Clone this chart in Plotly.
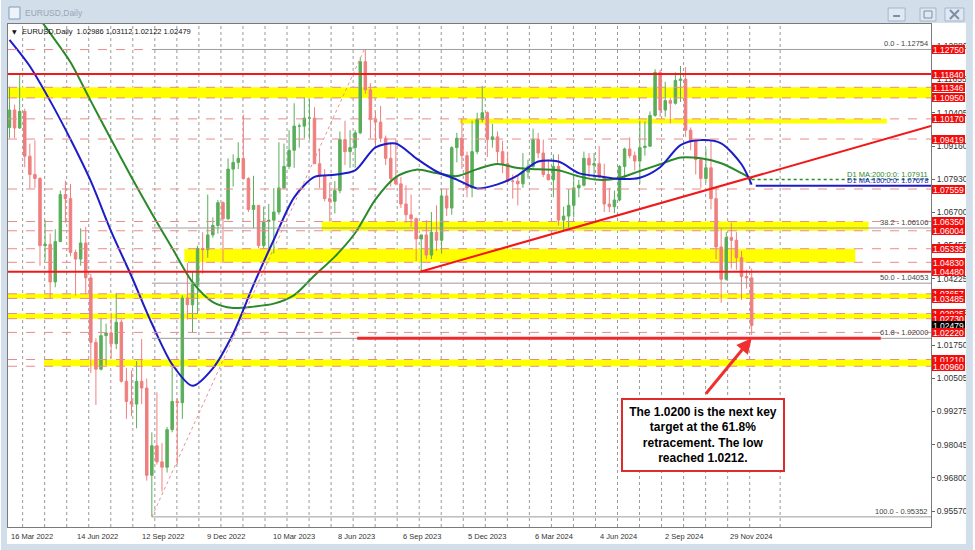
import numpy as np
import pandas as pd
import plotly.graph_objects as go

START = "2022-03-16"

# ---------------- data ----------------
# weekly candles (one per week, first week starting 16 Mar 2022)
week_high = [
    1.1137, 1.1070, 1.1185, 1.1055, 1.0925, 1.0937, 1.0800, 1.0640, 1.0590, 1.0606,
    1.0750, 1.0787, 1.0775, 1.0530, 1.0610, 1.0615, 1.0440, 1.0200, 1.0275, 1.0255,
    1.0295, 1.0368, 1.0270, 1.0090, 1.0080, 1.0115, 1.0198, 1.0050, 0.9850, 0.9999,
    0.9810, 0.9870, 1.0093, 0.9976, 1.0360, 1.0480, 1.0450, 1.0545, 1.0595, 1.0735,
    1.0650, 1.0715, 1.0710, 1.0870, 1.0885, 1.0930, 1.1033, 1.0800, 1.0805, 1.0695,
    1.0690, 1.0700, 1.0760, 1.0930, 1.0925, 1.0975, 1.1075, 1.1000, 1.1095, 1.1090,
    1.1060, 1.0905, 1.0830, 1.0780, 1.0785, 1.0970, 1.1010, 1.0975, 1.0975, 1.1245,
    1.1276, 1.1150, 1.1045, 1.1065, 1.0955, 1.0930, 1.0945, 1.0800, 1.0770, 1.0735,
    1.0650, 1.0585, 1.0640, 1.0670, 1.0695, 1.0755, 1.0755, 1.0915, 1.0965, 1.1017,
    1.0895, 1.1010, 1.1040, 1.1140, 1.1045, 1.0998, 1.0970, 1.0935, 1.0895, 1.0810,
    1.0805, 1.0890, 1.0865, 1.0981, 1.0965, 1.0940, 1.0865, 1.0885, 1.0885, 1.0690,
    1.0755, 1.0810, 1.0790, 1.0895, 1.0890, 1.0890, 1.0916, 1.0850, 1.0760, 1.0750,
    1.0845, 1.0910, 1.0948, 1.0895, 1.1010, 1.1008, 1.1045, 1.1202, 1.1200, 1.1155,
    1.1095, 1.1190, 1.1214, 1.1210, 1.0985, 1.0940, 1.0870, 1.0905, 1.0935, 1.0760,
    1.0610, 1.0595, 1.0630, 1.0595, 1.0525, 1.0455, 1.0460]
week_low = [
    1.0945, 1.0945, 1.0980, 1.0837, 1.0757, 1.0760, 1.0470, 1.0490, 1.0350, 1.0390,
    1.0560, 1.0630, 1.0505, 1.0359, 1.0470, 1.0365, 1.0070, 0.9952, 1.0080, 1.0100,
    1.0125, 1.0160, 1.0035, 0.9900, 0.9910, 0.9865, 0.9955, 0.9670, 0.9536, 0.9730,
    0.9630, 0.9700, 0.9850, 0.9730, 0.9900, 1.0270, 1.0220, 1.0290, 1.0440, 1.0500,
    1.0575, 1.0590, 1.0480, 1.0640, 1.0765, 1.0830, 1.0790, 1.0670, 1.0610, 1.0535,
    1.0535, 1.0525, 1.0516, 1.0660, 1.0755, 1.0830, 1.0835, 1.0910, 1.0945, 1.0940,
    1.0850, 1.0760, 1.0710, 1.0635, 1.0665, 1.0740, 1.0845, 1.0835, 1.0835, 1.0960,
    1.1110, 1.0945, 1.0910, 1.0930, 1.0845, 1.0765, 1.0770, 1.0685, 1.0630, 1.0615,
    1.0488, 1.0448, 1.0495, 1.0495, 1.0525, 1.0515, 1.0655, 1.0660, 1.0855, 1.0830,
    1.0725, 1.0725, 1.0885, 1.1005, 1.0875, 1.0910, 1.0845, 1.0815, 1.0780, 1.0720,
    1.0695, 1.0760, 1.0795, 1.0835, 1.0870, 1.0800, 1.0790, 1.0725, 1.0620, 1.0601,
    1.0610, 1.0650, 1.0725, 1.0765, 1.0800, 1.0790, 1.0800, 1.0670, 1.0670, 1.0666,
    1.0710, 1.0790, 1.0870, 1.0825, 1.0775, 1.0880, 1.0915, 1.1025, 1.1025, 1.1025,
    1.1000, 1.1070, 1.1080, 1.0950, 1.0900, 1.0810, 1.0760, 1.0780, 1.0680, 1.0495,
    1.0332, 1.0415, 1.0460, 1.0455, 1.0343, 1.0385, 1.0212]
week_close = [
    1.1050, 1.0983, 1.1045, 1.0878, 1.0810, 1.0795, 1.0545, 1.0550, 1.0410, 1.0560,
    1.0735, 1.0720, 1.0520, 1.0495, 1.0555, 1.0425, 1.0185, 1.0085, 1.0210, 1.0220,
    1.0180, 1.0260, 1.0040, 0.9965, 0.9955, 1.0040, 1.0015, 0.9690, 0.9800, 0.9740,
    0.9720, 0.9860, 0.9965, 0.9960, 1.0350, 1.0325, 1.0400, 1.0535, 1.0530, 1.0585,
    1.0620, 1.0705, 1.0645, 1.0830, 1.0855, 1.0870, 1.0795, 1.0680, 1.0695, 1.0545,
    1.0635, 1.0640, 1.0670, 1.0760, 1.0840, 1.0900, 1.0990, 1.0990, 1.1020, 1.1020,
    1.0850, 1.0805, 1.0720, 1.0710, 1.0750, 1.0940, 1.0895, 1.0910, 1.0965, 1.1230,
    1.1125, 1.1015, 1.1005, 1.0945, 1.0870, 1.0795, 1.0775, 1.0700, 1.0660, 1.0645,
    1.0570, 1.0585, 1.0510, 1.0595, 1.0565, 1.0730, 1.0685, 1.0910, 1.0945, 1.0880,
    1.0760, 1.0895, 1.1015, 1.1040, 1.0940, 1.0950, 1.0895, 1.0850, 1.0785, 1.0785,
    1.0775, 1.0820, 1.0840, 1.0940, 1.0890, 1.0810, 1.0790, 1.0840, 1.0640, 1.0655,
    1.0695, 1.0760, 1.0770, 1.0870, 1.0845, 1.0850, 1.0800, 1.0700, 1.0690, 1.0715,
    1.0840, 1.0905, 1.0880, 1.0860, 1.0910, 1.0915, 1.1030, 1.1190, 1.1050, 1.1085,
    1.1075, 1.1160, 1.1165, 1.0975, 1.0935, 1.0865, 1.0795, 1.0835, 1.0720, 1.0540,
    1.0420, 1.0575, 1.0565, 1.0500, 1.0430, 1.0425, 1.0248]
first_open = 1.0985

# moving averages sampled every 4 weeks (plus the last week)
ma100 = [1.1311, 1.1213, 1.1084, 1.0941, 1.0785, 1.0598, 1.0431, 1.0255, 1.0103, 1.0023,
         1.0088, 1.0218, 1.0399, 1.0567, 1.0725, 1.0801, 1.0809, 1.0825, 1.0911, 1.0925,
         1.0870, 1.0821, 1.0791, 1.0758, 1.0773, 1.0807, 1.0858, 1.0858, 1.0815, 1.0803,
         1.0793, 1.0798, 1.0837, 1.0919, 1.0938, 1.0926, 1.0848, 1.0772]
ma200 = [1.1545, 1.1440, 1.1336, 1.1228, 1.1083, 1.0940, 1.0800, 1.0665, 1.0536, 1.0409,
         1.0335, 1.0313, 1.0318, 1.0329, 1.0361, 1.0434, 1.0504, 1.0592, 1.0717, 1.0800,
         1.0828, 1.0815, 1.0804, 1.0830, 1.0849, 1.0834, 1.0829, 1.0826, 1.0803, 1.0790,
         1.0797, 1.0823, 1.0848, 1.0873, 1.0870, 1.0852, 1.0815, 1.0793]
ma100_last = 1.07678
ma200_last = 1.07911

tick_dates = ["2022-03-16", "2022-06-14", "2022-09-12", "2022-12-09", "2023-03-10", "2023-06-08",
              "2023-09-06", "2023-12-05", "2024-03-06", "2024-06-04", "2024-09-02", "2024-11-29"]
tick_text = ["16 Mar 2022", "14 Jun 2022", "12 Sep 2022", "9 Dec 2022", "10 Mar 2023", "8 Jun 2023",
             "6 Sep 2023", "5 Dec 2023", "6 Mar 2024", "4 Jun 2024", "2 Sep 2024", "29 Nov 2024"]

axis_ticks = [1.12880, 1.11655, 1.10405, 1.09160, 1.07930, 1.06700, 1.05455, 1.04225,
              1.02995, 1.01750, 1.00505, 0.99275, 0.98045, 0.96800, 0.95570]
red_labels = [1.12750, 1.11840, 1.11346, 1.10950, 1.10170, 1.09419, 1.07559, 1.06350, 1.06004,
              1.05335, 1.04830, 1.04480, 1.03657, 1.03485, 1.02925, 1.02730, 1.02220, 1.01210, 1.00960]
header_ohlc = [1.02986, 1.03112, 1.02122, 1.02479]
current_price = 1.02479

solid_levels = [1.11840, 1.04480]
dashed_levels = [1.11346, 1.10950, 1.10170, 1.09419, 1.07559, 1.06350, 1.06004, 1.05335,
                 1.04830, 1.03657, 1.03485, 1.02925, 1.02730, 1.02220, 1.01210, 1.00960]
top_dashed = 1.12750
band_lo = [1.10950, 1.10000, 1.06004, 1.04830, 1.03485, 1.02730, 1.00960]
band_hi = [1.11346, 1.10170, 1.06350, 1.05335, 1.03657, 1.02925, 1.01210]
band_from = [None, "2023-11-27", "2023-05-19", "2022-11-11", None, None, "2022-05-03"]
band_to = [None, "2025-07-07", "2025-06-11", "2025-05-23", None, None, None]

fib_low = ("2022-09-28", 0.95352)
fib_high = ("2023-07-18", 1.12754)
fib_ratios = [0.0, 38.2, 50.0, 61.8, 100.0]
target_line = ("2023-07-07", "2025-06-27")
trend_a = ("2023-10-03", 1.04480)
trend_b = ("2025-01-01", 1.08000)

# ---------------- helpers ----------------
W, H = 975, 550
L, R, T, B = 7, 933, 24, 527
X0, X1 = -1.47, 906.4
Y0, Y1 = 0.94975, 1.13702


def bx(d):
    return int(np.busday_count(START, pd.Timestamp(d).strftime("%Y-%m-%d")))


def px(x):
    return (x - L) / (R - L)


def py(y):
    return (B - y) / (B - T)


week_dates = pd.date_range(START, periods=len(week_close), freq="7D")
week_x = [bx(d) for d in week_dates]
week_open = [first_open] + week_close[:-1]
ma_x = week_x[::4] + [week_x[-1]]

FONT = "Liberation Sans"
GREEN_C = "#5aae5a"
RED_C = "#ef7f7f"

fig = go.Figure()
fig.add_trace(go.Candlestick(
    x=week_x, open=week_open, high=week_high, low=week_low, close=week_close,
    increasing=dict(line=dict(color=GREEN_C, width=1), fillcolor=GREEN_C),
    decreasing=dict(line=dict(color=RED_C, width=1), fillcolor=RED_C),
    whiskerwidth=0, hoverinfo="skip"))
fig.add_trace(go.Scatter(x=ma_x, y=ma200, mode="lines",
                         line=dict(color="#2a8a2a", width=2, shape="spline", smoothing=0.8),
                         hoverinfo="skip"))
fig.add_trace(go.Scatter(x=ma_x, y=ma100, mode="lines",
                         line=dict(color="#1c1cc8", width=2, shape="spline", smoothing=0.8),
                         hoverinfo="skip"))

shapes = []
# yellow zones
for lo, hi, f, t in zip(band_lo, band_hi, band_from, band_to):
    shapes.append(dict(type="rect", xref="x", yref="y", layer="below",
                       x0=bx(f) if f else X0, x1=bx(t) if t else X1, y0=lo, y1=hi,
                       fillcolor="#ffff00", line=dict(width=0)))
# vertical dotted grid (MT4 style)
g = 12.94
while g <= 730:
    shapes.append(dict(type="line", xref="x", yref="paper", layer="below", x0=g, x1=g, y0=0, y1=1,
                       line=dict(color="#9a9a9a", width=1, dash="dot")))
    g += 21.67
shapes.append(dict(type="line", xref="x", yref="paper", layer="below", x0=758, x1=758, y0=0, y1=1,
                   line=dict(color="#9a9a9a", width=1, dash="dot")))

# dashed horizontal levels
for lv in dashed_levels:
    shapes.append(dict(type="line", xref="x", yref="y", x0=X0, x1=X1, y0=lv, y1=lv,
                       line=dict(color="#ec8a8a", width=1, dash="dash")))
shapes.append(dict(type="line", xref="x", yref="y", x0=X0, x1=bx(fib_low[0]), y0=top_dashed,
                   y1=top_dashed, line=dict(color="#ec8a8a", width=1, dash="dash")))
# fibonacci
fl_x, fh_x = bx(fib_low[0]), bx(fib_high[0])
rng = fib_high[1] - fib_low[1]
fib_prices = [fib_high[1] - r / 100.0 * rng for r in fib_ratios]
for p in fib_prices:
    shapes.append(dict(type="line", xref="x", yref="y", x0=fl_x, x1=X1, y0=p, y1=p,
                       line=dict(color="#9c9c9c", width=1)))
shapes.append(dict(type="line", xref="x", yref="y", x0=fl_x, x1=fh_x, y0=fib_low[1], y1=fib_high[1],
                   line=dict(color="#e89090", width=1, dash="dot")))
# solid red levels
for lv in solid_levels:
    shapes.append(dict(type="line", xref="x", yref="y", x0=X0, x1=X1, y0=lv, y1=lv,
                       line=dict(color="#f01818", width=2)))
shapes.append(dict(type="line", xref="x", yref="y", x0=bx(target_line[0]), x1=bx(target_line[1]),
                   y0=fib_prices[3], y1=fib_prices[3], line=dict(color="#f02a2a", width=3)))
# trend ray
ta_x, tb_x = bx(trend_a[0]), bx(trend_b[0])
slope = (trend_b[1] - trend_a[1]) / (tb_x - ta_x)
shapes.append(dict(type="line", xref="x", yref="y", x0=ta_x, x1=X1, y0=trend_a[1],
                   y1=trend_a[1] + slope * (X1 - ta_x), line=dict(color="#f01818", width=2)))
# MA value lines
shapes.append(dict(type="line", xref="x", yref="y", x0=ma_x[-1], x1=X1, y0=ma200_last, y1=ma200_last,
                   line=dict(color="#2a8a2a", width=1.5, dash="dot")))
shapes.append(dict(type="line", xref="x", yref="y", x0=ma_x[-1] + 4, x1=X1, y0=ma100_last, y1=ma100_last,
                   line=dict(color="#1c1cc8", width=2)))

# window frame (outside the plot area)
FRAME = "#d3deeb"
for (a, b, c, d) in [(0, W, 0, T - 1), (0, L - 1, 0, H), (968, W, 0, H), (0, W, 544, H)]:
    shapes.append(dict(type="rect", xref="paper", yref="paper", x0=px(a), x1=px(b), y0=py(c), y1=py(d),
                       fillcolor=FRAME, line=dict(width=0), layer="above"))
shapes.append(dict(type="rect", xref="paper", yref="paper", x0=px(8), x1=px(19), y0=py(7), y1=py(19),
                   fillcolor="#eef3f9", line=dict(color="#7f9cc0", width=1), layer="above"))
for (a, b) in [(890, 907), (922, 938), (947, 966)]:
    shapes.append(dict(type="rect", xref="paper", yref="paper", x0=px(a), x1=px(b), y0=py(8), y1=py(21),
                       fillcolor="#e0e8f2", line=dict(color="#a6b6cb", width=1), layer="above"))
shapes.append(dict(type="line", xref="paper", yref="paper", x0=px(895), x1=px(902), y0=py(16), y1=py(16),
                   line=dict(color="#7d8ea6", width=2), layer="above"))
shapes.append(dict(type="rect", xref="paper", yref="paper", x0=px(926), x1=px(934), y0=py(11), y1=py(18),
                   line=dict(color="#7d8ea6", width=1), layer="above"))
shapes.append(dict(type="line", xref="paper", yref="paper", x0=px(952), x1=px(961), y0=py(10), y1=py(19),
                   line=dict(color="#7d8ea6", width=2), layer="above"))
shapes.append(dict(type="line", xref="paper", yref="paper", x0=px(952), x1=px(961), y0=py(19), y1=py(10),
                   line=dict(color="#7d8ea6", width=2), layer="above"))

ann = []
# window title & chart header
ann.append(dict(text="EURUSD,Daily", xref="paper", yref="paper", x=px(22), y=py(13), xanchor="left",
                yanchor="middle", showarrow=False, font=dict(family=FONT, size=8.5, color="#9aa6b6")))
ann.append(dict(text="▼", xref="paper", yref="paper", x=px(9), y=py(32), xanchor="left", yanchor="middle",
                showarrow=False, font=dict(family="DejaVu Sans", size=6, color="#111")))
ann.append(dict(text="EURUSD,Daily  " + " ".join(f"{v:.5f}" for v in header_ohlc), xref="paper", yref="paper",
                x=px(19), y=py(32), xanchor="left", yanchor="middle", showarrow=False,
                font=dict(family=FONT, size=7.5, color="#111")))
# x labels
for d, t in zip(tick_dates, tick_text):
    ann.append(dict(text=t, xref="x", yref="paper", x=bx(d), y=py(536), xanchor="left", yanchor="middle",
                    showarrow=False, font=dict(family=FONT, size=7.5, color="#333")))
# fib labels
for r, p in zip(fib_ratios, fib_prices):
    ann.append(dict(text=f"{r:.1f} - {p:.5f}", xref="paper", yref="y", x=px(932), y=p, xanchor="right",
                    yanchor="bottom", showarrow=False, yshift=-1,
                    font=dict(family=FONT, size=7.5, color="#444")))
# MA labels
ann.append(dict(text=f"D1 MA:200:0:0: {ma200_last:.5f}", xref="paper", yref="y", x=px(932), y=ma200_last,
                xanchor="right", yanchor="bottom", showarrow=False, yshift=-1,
                font=dict(family=FONT, size=7.5, color="#2a8a2a")))
ann.append(dict(text=f"D1 MA:100:0:0: {ma100_last:.5f}", xref="paper", yref="y", x=px(932), y=ma100_last,
                xanchor="right", yanchor="bottom", showarrow=False, yshift=-1,
                font=dict(family=FONT, size=7.5, color="#1c1cc8")))
# price labels on the right scale
price_tags = [(v, "#f20d0d") for v in red_labels]
price_tags.append((current_price, "#000000"))
price_tags.sort(key=lambda t: -t[0])
for v, c in price_tags:
    ann.append(dict(text=f"{v:.5f}", xref="paper", yref="y", x=1, y=v, xanchor="left", yanchor="middle",
                    xshift=1, showarrow=False, bgcolor=c, borderpad=0, borderwidth=0, width=33, height=9,
                    font=dict(family=FONT, size=8.5, color="white")))
# callout
ann.append(dict(text="", xref="x", yref="y", x=week_x[-1], y=fib_prices[3], ax=-47, ay=57,
                showarrow=True, arrowhead=2, arrowsize=1, arrowwidth=3, arrowcolor="#f03030", standoff=0))
ann.append(dict(text="<b>The 1.0200 is the next key<br>target at the 61.8%<br>retracement. The low<br>"
                     "reached 1.0212.</b>",
                xref="paper", yref="paper", x=px(704), y=py(435), xanchor="center", yanchor="middle",
                showarrow=False, width=160, height=70, bgcolor="white", bordercolor="#e02b2b",
                borderwidth=2, borderpad=0, align="center",
                font=dict(family=FONT, size=12, color="#000")))

fig.update_layout(
    width=W, height=H, margin=dict(l=L, r=W - R, t=T, b=H - B),
    paper_bgcolor="white", plot_bgcolor="white", showlegend=False,
    shapes=shapes, annotations=ann,
    xaxis=dict(range=[X0, X1], showgrid=False, zeroline=False, showticklabels=False, ticks="",
               showline=True, mirror=True, linecolor="#7a7a7a", linewidth=1,
               rangeslider=dict(visible=False), fixedrange=True),
    yaxis=dict(range=[Y0, Y1], side="right", tickmode="array", tickvals=axis_ticks,
               ticktext=[f"{v:.5f}" for v in axis_ticks], showgrid=False, zeroline=False,
               ticks="outside", ticklen=3, tickcolor="#666",
               tickfont=dict(family=FONT, size=8.5, color="#333"),
               showline=True, mirror=True, linecolor="#7a7a7a", linewidth=1, fixedrange=True),
)

fig.write_html("out.html", config={"displayModeBar": False},
               post_script="document.body.style.margin='0';document.body.style.overflow='hidden';")
